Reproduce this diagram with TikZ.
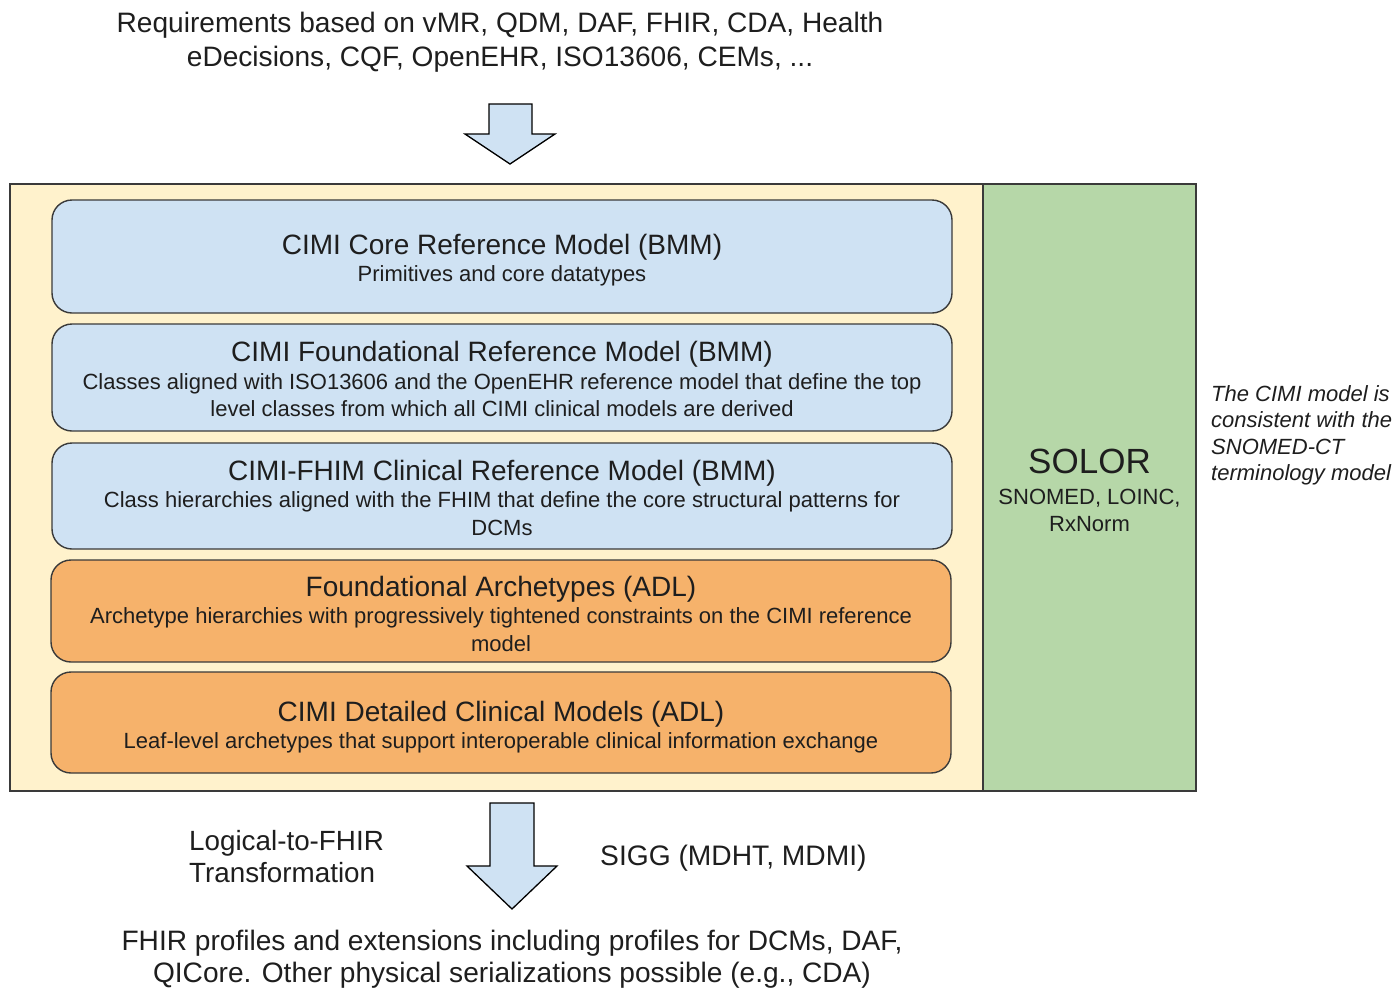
\documentclass[tikz,border=0pt]{standalone}
\usepackage{fontspec}
\setmainfont{Liberation Sans}
\usetikzlibrary{positioning}

\definecolor{layerblue}{HTML}{CFE2F3}
\definecolor{layerorange}{HTML}{F6B26B}
\definecolor{framecream}{HTML}{FFF2CC}
\definecolor{solorgreen}{HTML}{B6D7A8}
\definecolor{edgegray}{HTML}{3A3A3A}
\definecolor{inkblack}{HTML}{1E1E1E}

\newcommand\headfont{\fontsize{28.1}{34}\selectfont}
\newcommand\layertitle{\fontsize{28}{27.5}\selectfont}
\newcommand\layersub{\fontsize{22}{27.5}\selectfont}
\newcommand\notefont{\fontsize{22}{26.5}\selectfont}
\newcommand\lowerby[1]{\rule{0pt}{#1}}

\begin{document}
\begin{tikzpicture}[x=1pt,y=-1pt,
	layer/.style={draw=edgegray,line width=1.4pt,rounded corners=20pt,font=\layersub,
		minimum width=900pt,align=center,inner sep=0pt,text=inkblack},
	bigarrow/.style={draw=black,line width=1.3pt,fill=layerblue,line join=miter},
	plain/.style={text=inkblack,inner sep=0pt}]
	\useasboundingbox (0,0) rectangle (1395,988);
	% requirements in
	\node[plain,align=center,font=\headfont] (requirements) at (500,42)
		{Requirements based on vMR, QDM, DAF, FHIR, CDA, Health\\eDecisions, CQF, OpenEHR, ISO13606, CEMs, ...};
	\coordinate (inTip) at (510,164);
	\draw[bigarrow](489,104)--(532,104)--(532,134)--(555,134)--(inTip)--(465,134)--(489,134)--cycle;
	% frame
	\draw[draw=edgegray,line width=1.4pt,fill=framecream](10,184)rectangle(983,791);
	\node[draw=edgegray,line width=1.4pt,fill=solorgreen,minimum width=213pt,minimum height=607pt,
		align=center,text=inkblack,font=\layersub] (solor) at (1089.5,487.5)
		{\fontsize{35}{35}\selectfont\lowerby{31pt}SOLOR\\[3pt]SNOMED, LOINC,\\RxNorm};
	% layers
	\node[layer,fill=layerblue,minimum height=113pt] (core) at (502,256.5)
		{\layertitle\lowerby{28pt}CIMI Core Reference Model (BMM)\\Primitives and core datatypes};
	\node[layer,fill=layerblue,minimum height=107pt] (foundational) at (502,377.5)
		{\layertitle\lowerby{24pt}CIMI Foundational Reference Model (BMM)\\Classes aligned with ISO13606 and the OpenEHR reference model that define the top\\level classes from which all CIMI clinical models are derived};
	\node[layer,fill=layerblue,minimum height=106pt] (fhim) at (502,496)
		{\layertitle\lowerby{24pt}CIMI-FHIM Clinical Reference Model (BMM)\\Class hierarchies aligned with the FHIM that define the core structural patterns for\\DCMs};
	\node[layer,fill=layerorange,minimum height=102pt] (archetypes) at (501,611)
		{\layertitle\lowerby{26pt}Foundational Archetypes (ADL)\\Archetype hierarchies with progressively tightened constraints on the CIMI reference\\model};
	\node[layer,fill=layerorange,minimum height=101pt] (dcm) at (501,722.5)
		{\layertitle\lowerby{30pt}CIMI Detailed Clinical Models (ADL)\\Leaf-level archetypes that support interoperable clinical information exchange};
	% side note
	\node[plain,align=left,anchor=west,font=\notefont\itshape] (note) at (1211,435.5)
		{The CIMI model is\\consistent with the\\SNOMED-CT\\terminology model};
	% out
	\coordinate (outTip) at (512,909);
	\draw[bigarrow](490,803)--(534,803)--(534,866)--(557,866)--(outTip)--(467,866)--(490,866)--cycle;
	\node[plain,align=left,anchor=west,font=\fontsize{27.8}{32}\selectfont] (transform) at (189,856.5)
		{Logical-to-FHIR\\Transformation};
	\node[plain,anchor=west,font=\fontsize{28.2}{32}\selectfont] (sigg) at (600,858) {SIGG (MDHT, MDMI)};
	\node[plain,align=center,font=\fontsize{28.1}{32}\selectfont] (profiles) at (512,959)
		{FHIR profiles and extensions including profiles for DCMs, DAF,\\QICore. Other physical serializations possible (e.g., CDA)};
\end{tikzpicture}
\end{document}
